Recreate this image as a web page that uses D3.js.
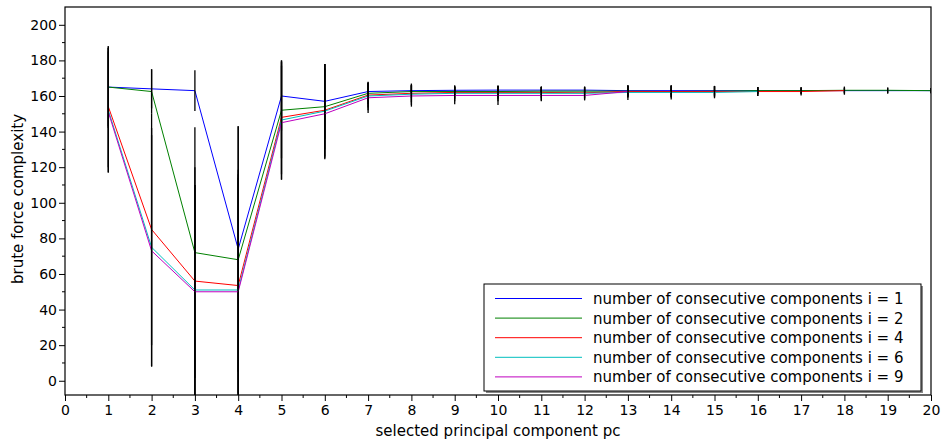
<!DOCTYPE html>
<html>
<head>
<meta charset="utf-8">
<script src="https://cdn.jsdelivr.net/npm/d3@7"></script>
<style>
  html, body { margin: 0; padding: 0; background: #fff; }
  svg { display: block; font-family: "DejaVu Sans", sans-serif; }
</style>
</head>
<body>
<svg id="chart" width="942" height="443"></svg>
<script>
// Selected principal component (x positions)
const pcs = d3.range(1, 21);

// Mean brute force complexity for each number of consecutive components
const valuesI1 = [165, 164, 163, 74, 160, 157, 162.5, 163, 163.2, 163.3, 163.3, 163.3, 163, 163, 163, 163, 163, 163, 163, 163];
const valuesI2 = [165, 162.5, 72, 68, 152, 154, 161.5, 162.5, 162.5, 162.5, 162.7, 162.7, 162.7, 162.5, 162.7, 163, 163, 163.2, 163.2, 163];
const valuesI4 = [154, 85, 56, 53.5, 148, 152, 160.5, 161.5, 162, 162, 162, 161.8, 162.5, 162.5, 162.5, 162.5, 162.5, 163];
const valuesI6 = [152, 75, 51, 51, 146.5, 151.5, 160, 161, 161.5, 161.5, 161.5, 161.5, 162, 162, 162, 162.5];
const valuesI9 = [151, 73, 50, 50, 145, 150, 159, 160, 160.3, 160.3, 160.3, 160.3, 162.5];

// Spread (± error) for each point
const errorsI1 = [23, 11, 11.5, 69, 19.5, 21, 5, 3, 2.2, 2.3, 1.7, 2, 2.6, 2.6, 2.6, 1.8, 1.8, 1.7, 1.8, 1.5];
const errorsI2 = [22, 12.5, 70.5, 75, 27, 24, 6, 3.5, 2.5, 2.6, 2.3, 2.5, 2.8, 3, 2.9, 2, 2, 1.5, 1.5, 1.5];
const errorsI4 = [34, 65, 64, 65, 32, 26, 7, 5, 3.5, 3.6, 3, 3, 3.5, 3.5, 3.2, 2.5, 2.2, 2.3];
const errorsI6 = [35, 67, 59, 65, 33.5, 26.5, 8, 6, 4.5, 4.5, 4, 3.5, 4.2, 4, 3.3, 2.5];
const errorsI9 = [34, 65, 60, 64, 32, 25.5, 8.5, 6, 5, 5.3, 3.3, 2.8, 3];

const seriesLabels = [
  "number of consecutive components i = 1",
  "number of consecutive components i = 2",
  "number of consecutive components i = 4",
  "number of consecutive components i = 6",
  "number of consecutive components i = 9"
];
const seriesColors = ["#0000ff", "#008000", "#ff0000", "#00bfbf", "#bf00bf"];
const seriesValues = [valuesI1, valuesI2, valuesI4, valuesI6, valuesI9];
const seriesErrors = [errorsI1, errorsI2, errorsI4, errorsI6, errorsI9];

const xTicks = d3.range(0, 21, 1);
const yTicks = d3.range(0, 201, 20);
const xLabel = "selected principal component pc";
const yLabel = "brute force complexity";

const svg = d3.select("#chart");
const plotLeft = 65, plotRight = 931, plotTop = 7, plotBottom = 395;

const x = d3.scaleLinear().domain([0, 20]).range([plotLeft, plotRight]);
const y = d3.scaleLinear().domain([-8, 210]).range([plotBottom, plotTop]);

svg.append("defs").append("clipPath").attr("id", "plotClip")
  .append("rect").attr("x", plotLeft).attr("y", plotTop)
  .attr("width", plotRight - plotLeft).attr("height", plotBottom - plotTop);

const plot = svg.append("g").attr("clip-path", "url(#plotClip)");

const line = d3.line().x(d => x(d.pc)).y(d => y(d.v));

seriesValues.forEach((vals, s) => {
  const pts = vals.map((v, k) => ({ pc: pcs[k], v: v, e: seriesErrors[s][k] }));
  plot.append("path")
    .datum(pts)
    .attr("fill", "none")
    .attr("stroke", seriesColors[s])
    .attr("stroke-width", 1)
    .attr("d", line);
  plot.append("g").selectAll("line")
    .data(pts)
    .join("line")
    .attr("x1", d => x(d.pc)).attr("x2", d => x(d.pc))
    .attr("y1", d => y(d.v - d.e)).attr("y2", d => y(d.v + d.e))
    .attr("stroke", "#000")
    .attr("stroke-width", 1.3);
});

// Axes
const tickFont = "14px";
const labelFont = "15px";
const xAxis = d3.axisBottom(x).tickValues(xTicks).tickFormat(d3.format("d")).tickSize(6).tickPadding(4);
const yAxis = d3.axisLeft(y).tickValues(yTicks).tickFormat(d3.format("d")).tickSize(6).tickPadding(2);

const gx = svg.append("g").attr("transform", `translate(0,${plotBottom})`).call(xAxis);
const gy = svg.append("g").attr("transform", `translate(${plotLeft},0)`).call(yAxis);
[gx, gy].forEach(g => {
  g.select(".domain").remove();
  g.selectAll("text").attr("font-size", tickFont).attr("font-family", "DejaVu Sans").attr("fill", "#000");
  g.selectAll(".tick line").attr("stroke", "#000");
});

// Minor ticks
svg.append("g").selectAll("line")
  .data(d3.range(0.5, 20, 1))
  .join("line")
  .attr("x1", d => x(d)).attr("x2", d => x(d))
  .attr("y1", plotBottom).attr("y2", plotBottom + 3)
  .attr("stroke", "#000");
svg.append("g").selectAll("line")
  .data(d3.range(-10, 211, 10).filter(v => v % 20 !== 0 && v > -8 && v < 210))
  .join("line")
  .attr("x1", plotLeft - 3).attr("x2", plotLeft)
  .attr("y1", d => y(d)).attr("y2", d => y(d))
  .attr("stroke", "#000");

// Frame
svg.append("rect")
  .attr("x", plotLeft).attr("y", plotTop)
  .attr("width", plotRight - plotLeft).attr("height", plotBottom - plotTop)
  .attr("fill", "none").attr("stroke", "#000").attr("stroke-width", 1.2);

// Axis titles
svg.append("text")
  .attr("x", (plotLeft + plotRight) / 2).attr("y", 436)
  .attr("text-anchor", "middle").attr("font-size", labelFont)
  .text(xLabel);
svg.append("text")
  .attr("transform", `translate(23,${(plotTop + plotBottom) / 2 - 2}) rotate(-90)`)
  .attr("text-anchor", "middle").attr("font-size", labelFont)
  .text(yLabel);

// Legend
const lg = svg.append("g");
const lx = 484, ly = 284, lw = 437, lh = 107;
lg.append("rect").attr("x", lx + 2).attr("y", ly + 2).attr("width", lw).attr("height", lh).attr("fill", "#888");
lg.append("rect").attr("x", lx).attr("y", ly).attr("width", lw).attr("height", lh)
  .attr("fill", "#fff").attr("stroke", "#000").attr("stroke-width", 1);
seriesLabels.forEach((lab, s) => {
  const yy = ly + 14.5 + s * 19.6;
  lg.append("line").attr("x1", lx + 11).attr("x2", lx + 98)
    .attr("y1", yy).attr("y2", yy)
    .attr("stroke", seriesColors[s]).attr("stroke-width", 1);
  lg.append("text").attr("x", lx + 109).attr("y", yy + 5.5)
    .attr("font-size", labelFont).text(lab);
});
</script>
</body>
</html>
